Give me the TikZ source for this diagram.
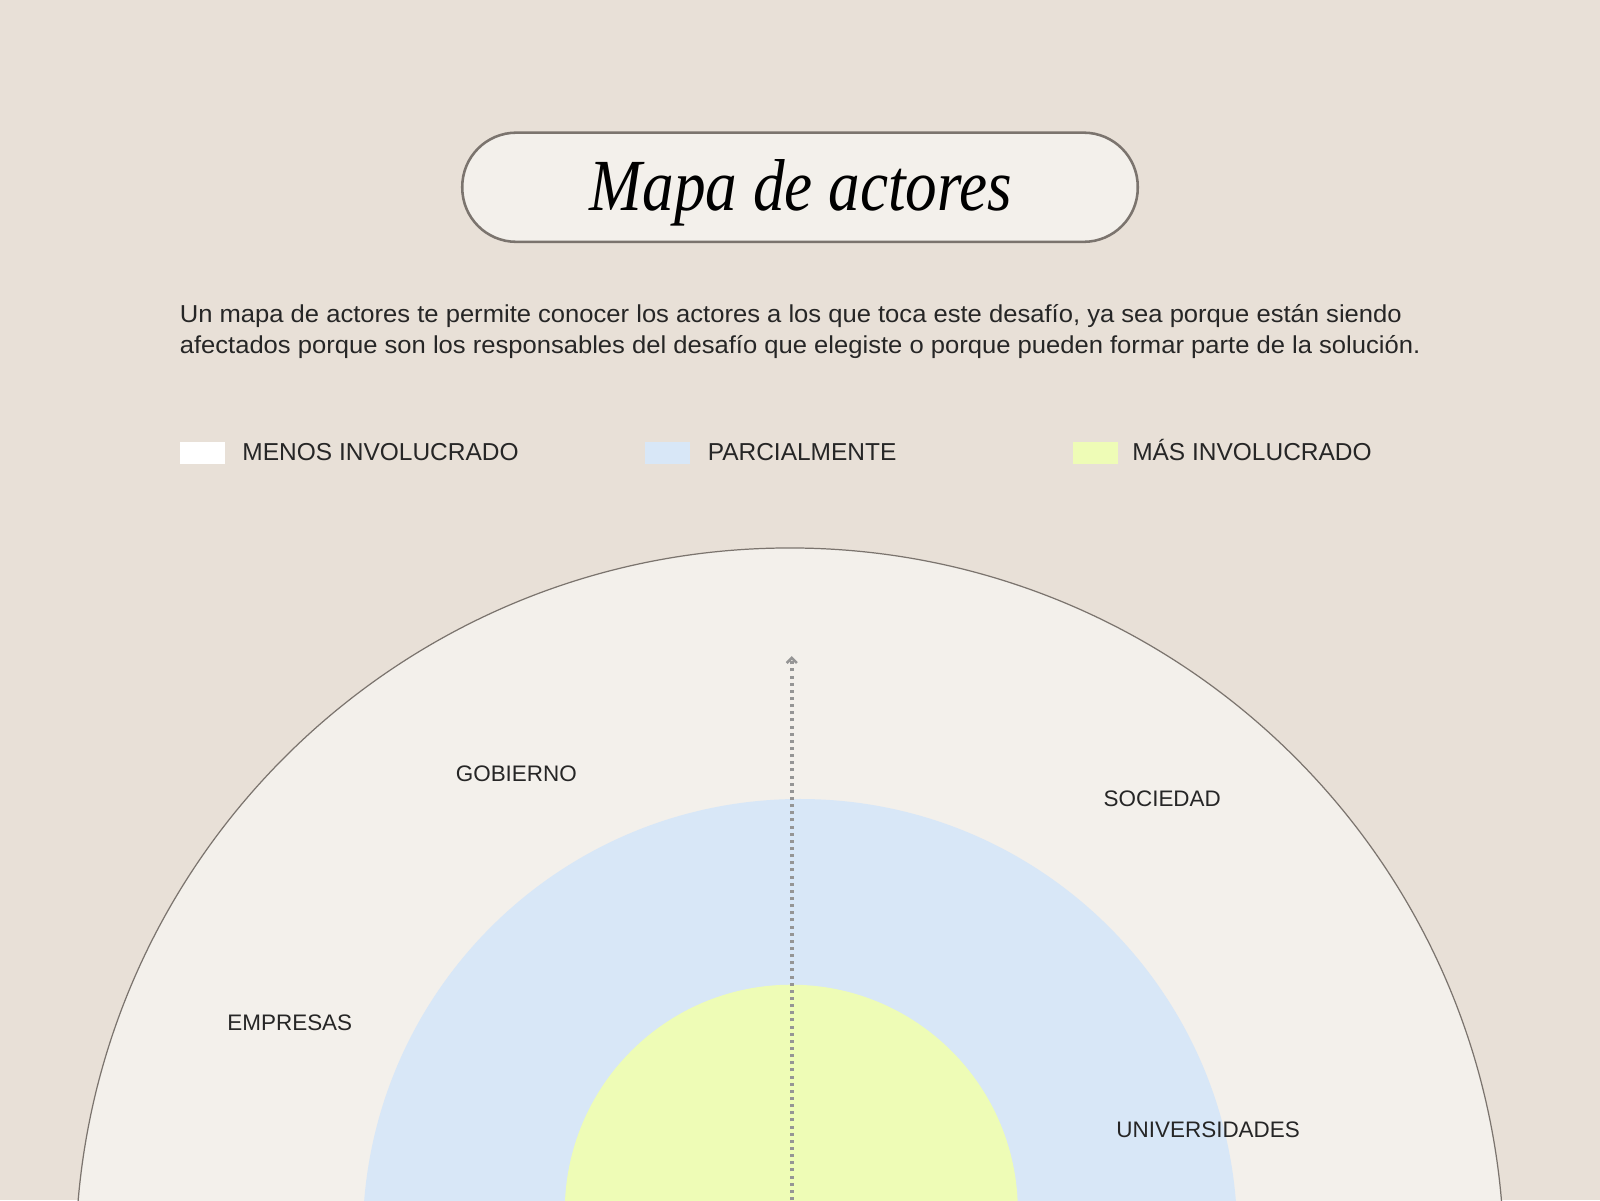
\documentclass[tikz,border=0pt]{standalone}
\usepackage{fontspec}
\setmainfont{Liberation Serif}
\setsansfont{Liberation Sans}
\usetikzlibrary{positioning,arrows.meta}
\definecolor{bgcol}{HTML}{E8E0D7}
\definecolor{ringcol}{HTML}{F3F0EB}
\definecolor{midcol}{HTML}{D8E7F7}
\definecolor{corecol}{HTML}{EEFCB6}
\definecolor{edgecol}{HTML}{7B746E}
\definecolor{axiscol}{HTML}{959595}

\begin{document}
\begin{tikzpicture}[x=1pt,y=-1pt,
    key box/.style={minimum width=44pt,minimum height=22pt,inner sep=0pt,anchor=west},
    key text/.style={font=\sffamily\fontsize{24}{28}\selectfont,text=black!85,inner sep=0pt,
                     text height=18pt,text depth=4pt},
    actor/.style={font=\sffamily\fontsize{22}{26}\selectfont,text=black!85}]

  \useasboundingbox (0,0) rectangle (1568,1176);
  \fill[bgcol] (0,0) rectangle (1568,1176);

  \begin{scope}
    \clip (0,0) rectangle (1568,1176);
    \filldraw[fill=ringcol,draw=edgecol,line width=1.2pt] (774,1237) circle (700pt);
    \fill[midcol] (784,1211.5) circle (428.5pt);
    \fill[corecol] (775.5,1187) circle (222pt);
  \end{scope}

  \node[draw=edgecol,line width=2.5pt,fill=ringcol,rounded corners=53pt,
        minimum width=662pt,minimum height=107pt] (title) at (784,183.5) {};
  \node at (785,189) {\scalebox{0.86}[1]{\fontsize{72}{80}\selectfont\itshape Mapa de actores}};

  \node[font=\sffamily\fontsize{24}{31}\selectfont,text=black!85,anchor=north west,inner sep=0pt]
    (intro) at (176,294) {\scalebox{1.045}[1]{\begin{tabular}{@{}l@{}}Un mapa de actores te permite conocer los actores a los que toca este desafío, ya sea porque están siendo\\
    afectados porque son los responsables del desafío que elegiste o porque pueden formar parte de la solución.\end{tabular}}};

  \node[key box,fill=white] (less) at (176,444) {};
  \node[key text,right=17pt of less] {MENOS INVOLUCRADO};
  \node[key box,fill=midcol] (part) at (632,444) {};
  \node[key text,right=17pt of part] {PARCIALMENTE};
  \node[key box,fill=corecol] (more) at (1051,444) {};
  \node[key text,right=14pt of more] {MÁS INVOLUCRADO};

  \coordinate (base) at (776,1176);
  \coordinate (tip) at (776,643);
  \draw[draw=axiscol,line width=3.5pt,dash pattern=on 3pt off 4pt,
        -{Straight Barb[length=5pt,width=10pt,line width=2.5pt]}] (base) -- (tip);

  \node[actor] (gob) at (506,758) {GOBIERNO};
  \node[actor] (soc) at (1139,783) {SOCIEDAD};
  \node[actor] (emp) at (284,1002) {EMPRESAS};
  \node[actor] (uni) at (1184,1107) {UNIVERSIDADES};
\end{tikzpicture}
\end{document}
